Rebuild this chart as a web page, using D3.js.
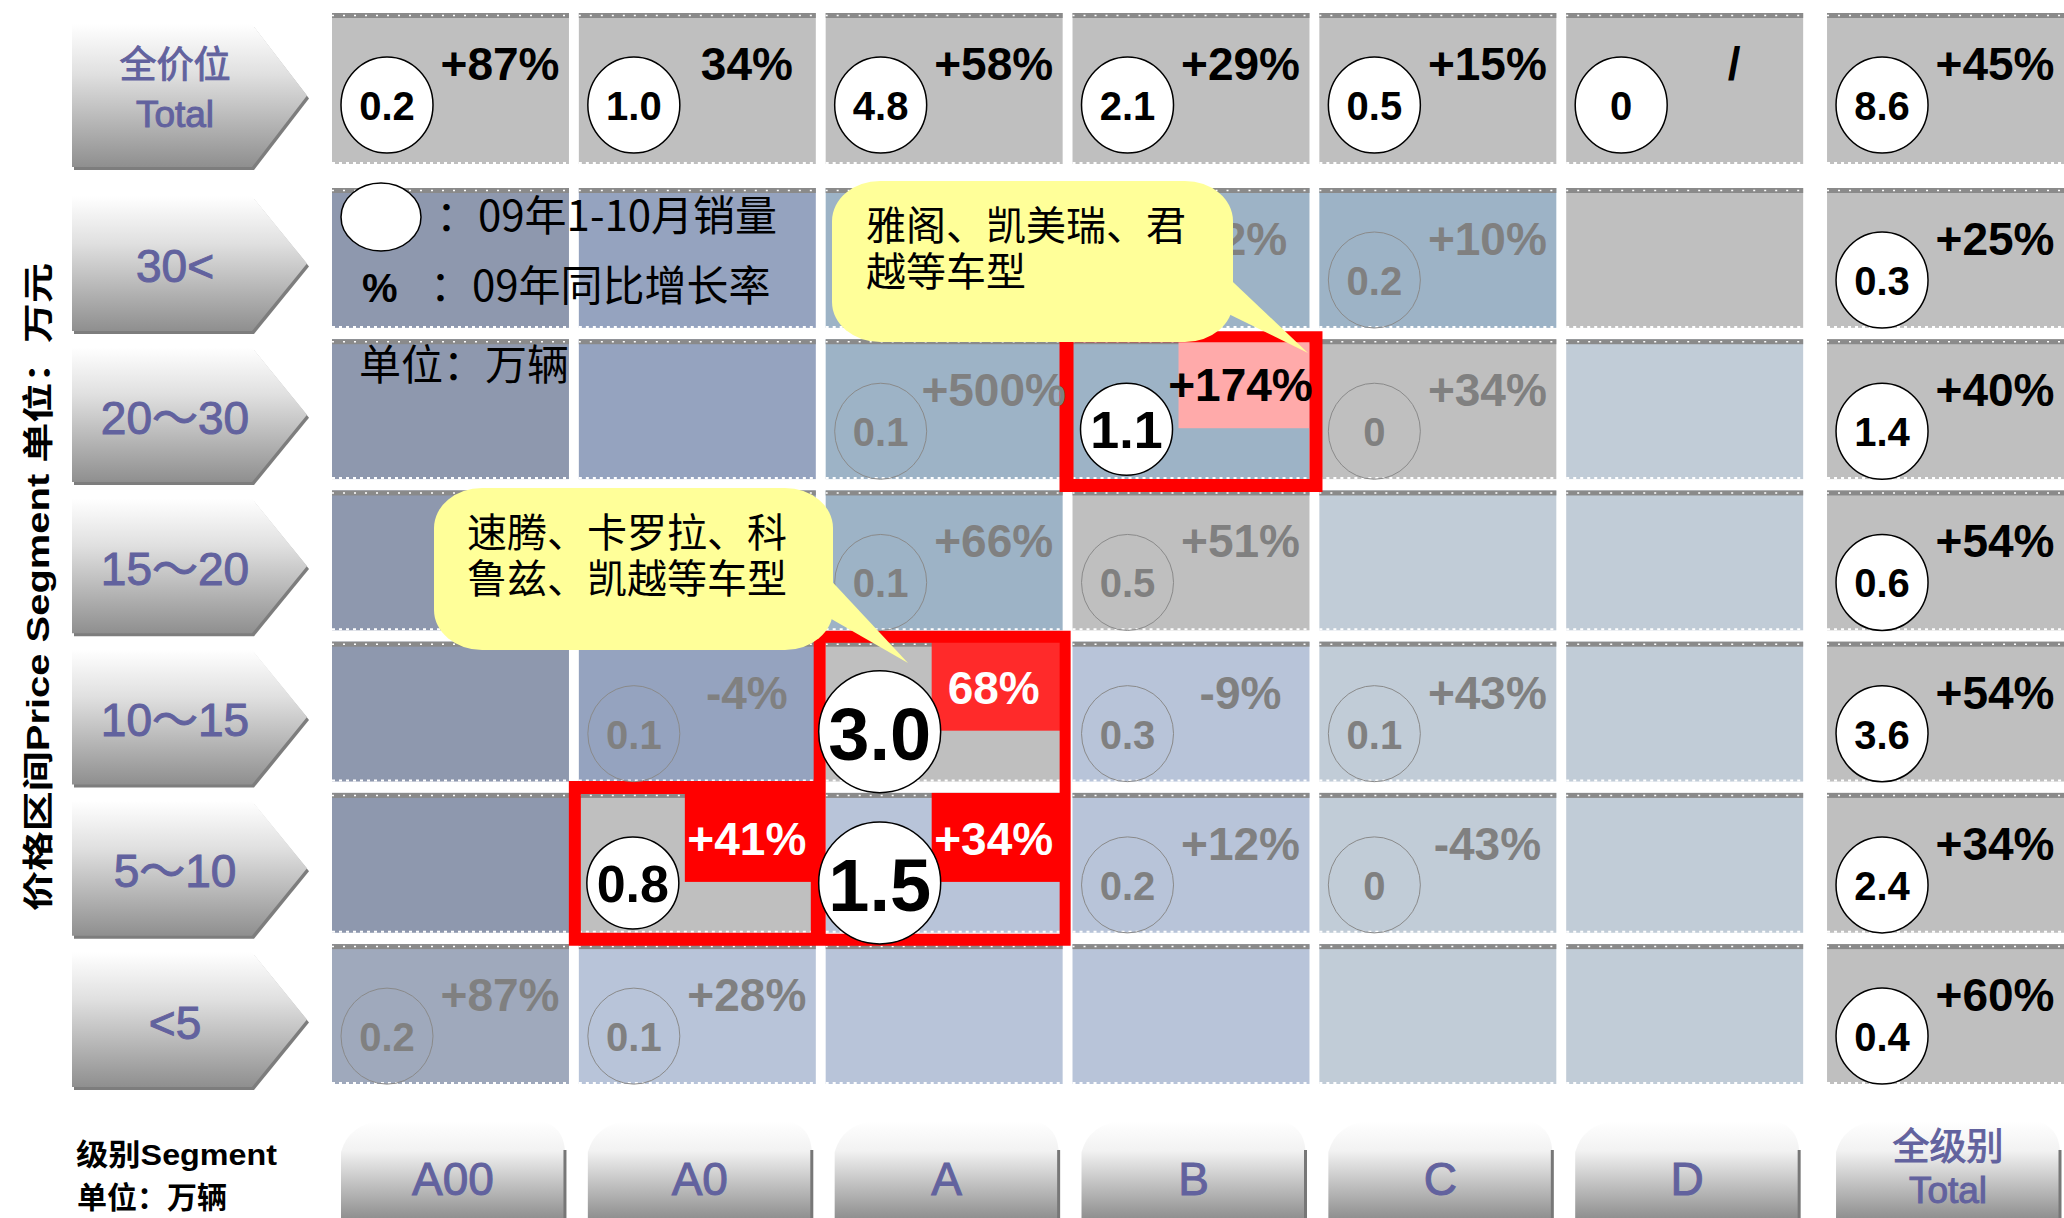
<!DOCTYPE html>
<html>
<head>
<meta charset="utf-8">
<script src="https://cdn.jsdelivr.net/npm/d3@7"></script>
<style>
  html, body { margin: 0; padding: 0; background: #fff; }
  svg { display: block; }
</style>
</head>
<body>
<div id="chart"></div>
<script>
const W = 2064, H = 1218;

// categories
const segments = ["A00", "A0", "A", "B", "C", "D", "Total"];
const priceRows = ["全价位", "30<", "20~30", "15~20", "10~15", "5~10", "<5"];
const priceLabels = [["全价位", "Total"], ["30<"], ["20～30"], ["15～20"], ["10～15"], ["5～10"], ["<5"]];
const segmentLabels = [["A00"], ["A0"], ["A"], ["B"], ["C"], ["D"], ["全级别", "Total"]];

// 09年1-10月销量（万辆），null = 空
const sales = [
  [0.2, 1.0, 4.8, 2.1, 0.5, 0, 8.6],
  [null, null, null, null, 0.2, null, 0.3],
  [null, null, 0.1, 1.1, 0, null, 1.4],
  [null, null, 0.1, 0.5, null, null, 0.6],
  [null, 0.1, 3.0, 0.3, 0.1, null, 3.6],
  [null, 0.8, 1.5, 0.2, 0, null, 2.4],
  [0.2, 0.1, null, null, null, null, 0.4]
];

// 09年同比增长率
const growth = [
  ["+87%", "34%", "+58%", "+29%", "+15%", "/", "+45%"],
  [null, null, null, "+2%", "+10%", null, "+25%"],
  [null, null, "+500%", "+174%", "+34%", null, "+40%"],
  [null, null, "+66%", "+51%", null, null, "+54%"],
  [null, "-4%", "68%", "-9%", "+43%", null, "+54%"],
  [null, "+41%", "+34%", "+12%", "-43%", null, "+34%"],
  [null, "+87%", null, null, null, null, "+60%"].map((v, i) => i === 1 ? "+28%" : v)
];
growth[6][0] = "+87%";

// cell tone category (heat level)
const cellTone = [
  ["g", "g", "g", "g", "g", "g", "g"],
  ["d", "m", "s", "s", "s", "g", "g"],
  ["d", "m", "s", "s", "g", "p", "g"],
  ["d", "m", "s", "g", "p", "p", "g"],
  ["d", "m", "g", "l", "p", "p", "g"],
  ["d", "g", "l", "l", "p", "p", "g"],
  ["e", "l", "l", "l", "p", "p", "g"]
];

// highlighted cells
const hotCells = ["20~30|B", "10~15|A", "5~10|A0", "5~10|A"];

const callouts = [
  { lines: ["雅阁、凯美瑞、君", "越等车型"] },
  { lines: ["速腾、卡罗拉、科", "鲁兹、凯越等车型"] }
];

const CJK = "'Noto Sans CJK SC', sans-serif";
const NUM = "'Liberation Sans', Arial, 'Noto Sans CJK SC', sans-serif";

const svg = d3.select("#chart").append("svg")
  .attr("width", W).attr("height", H);

// scales
const x = d3.scaleBand().domain(segments).range([332, 2050]).paddingInner(0.04);
const totalGap = 14;
const colX = c => x(c) + (c === "Total" ? totalGap : 0);
const bw = x.bandwidth();

const y = d3.scaleBand().domain(priceRows.slice(1)).range([188, 1084]).paddingInner(0.075);
const rowY = r => r === "全价位" ? 13 : y(r);
const rowH = r => r === "全价位" ? 151 : y.bandwidth();

const toneColor = d3.scaleOrdinal()
  .domain(["g", "d", "m", "s", "l", "p", "e"])
  .range(["#bfbfbf", "#8e98ae", "#95a3bf", "#9db3c6", "#b8c4d9", "#c1ccd7", "#9fa9bc"]);

// gradients
const defs = svg.append("defs");
const g1 = defs.append("linearGradient").attr("id", "arrowGrad")
  .attr("x1", 0).attr("y1", 0).attr("x2", 0).attr("y2", 1);
g1.append("stop").attr("offset", 0).attr("stop-color", "#ffffff");
g1.append("stop").attr("offset", 0.35).attr("stop-color", "#e0e0e0");
g1.append("stop").attr("offset", 1).attr("stop-color", "#8f8f8f");
const g2 = defs.append("linearGradient").attr("id", "tabGrad")
  .attr("x1", 0).attr("y1", 0).attr("x2", 0).attr("y2", 1);
g2.append("stop").attr("offset", 0).attr("stop-color", "#ffffff");
g2.append("stop").attr("offset", 0.3).attr("stop-color", "#f2f2f2");
g2.append("stop").attr("offset", 1).attr("stop-color", "#8d8d8d");

// y axis title
svg.append("text")
  .attr("transform", "translate(49,587) rotate(-90)")
  .attr("text-anchor", "middle")
  .attr("font-family", "'Liberation Sans', 'Noto Sans CJK SC', sans-serif")
  .attr("font-weight", "bold")
  .attr("font-size", 31)
  .attr("textLength", 648)
  .attr("lengthAdjust", "spacingAndGlyphs")
  .text("价格区间Price Segment  单位：万元");

// row label arrows
const arrows = svg.append("g");
priceRows.forEach((r, i) => {
  const t = rowY(r) + (i === 0 ? 11 : 8);
  const b = rowY(r) + rowH(r) + 3;
  const mid = (t + b) / 2;
  const path = `M72,${t} L252,${t} L307,${mid} L252,${b} L72,${b} Z`;
  arrows.append("path").attr("d", path)
    .attr("transform", "translate(2,3)")
    .attr("fill", "#7d7d7d");
  arrows.append("path").attr("d", path).attr("fill", "url(#arrowGrad)");
  const lines = priceLabels[i];
  lines.forEach((s, k) => {
    const two = lines.length > 1;
    arrows.append("text")
      .attr("x", 175)
      .attr("y", two ? (k === 0 ? 78 : 127) : mid + 19)
      .attr("text-anchor", "middle")
      .attr("font-family", k === 0 && two ? CJK : NUM)
      .attr("font-size", two ? 37 : 46)
      .attr("fill", "#62629e")
      .attr("stroke", "#62629e").attr("stroke-width", 1)
      .text(s);
  });
});

// column tabs at the bottom
const tabs = svg.append("g");
segments.forEach((c, i) => {
  const x0 = colX(c) + 9, x1 = colX(c) + bw - 4;
  const path = `M${x0},1220 L${x0},1152 Q${x0 + 8},1124 ${x0 + 40},1121 L${x1 - 24},1121 Q${x1 - 2},1126 ${x1},1150 L${x1},1220 Z`;
  tabs.append("path").attr("d", path).attr("fill", "url(#tabGrad)");
  tabs.append("line").attr("x1", x1).attr("x2", x1).attr("y1", 1150).attr("y2", 1218)
    .attr("stroke", "#777").attr("stroke-width", 3);
  const lines = segmentLabels[i];
  lines.forEach((s, k) => {
    const two = lines.length > 1;
    tabs.append("text")
      .attr("x", (x0 + x1) / 2)
      .attr("y", two ? (k === 0 ? 1160 : 1203) : 1195)
      .attr("text-anchor", "middle")
      .attr("font-family", k === 0 && two ? CJK : NUM)
      .attr("font-size", two ? 37 : 46)
      .attr("fill", "#62629e")
      .attr("stroke", "#62629e").attr("stroke-width", 1)
      .text(s);
  });
});

// bottom-left note
const note = svg.append("g")
  .attr("font-family", "'Liberation Sans', 'Noto Sans CJK SC', sans-serif")
  .attr("font-weight", "bold").attr("font-size", 30);
note.append("text").attr("x", 76).attr("y", 1165)
  .attr("textLength", 201).attr("lengthAdjust", "spacingAndGlyphs").text("级别Segment");
note.append("text").attr("x", 77).attr("y", 1208).text("单位：万辆");

// cells
const cells = [];
priceRows.forEach((r, i) => segments.forEach((c, j) => {
  cells.push({
    row: r, col: c, i, j,
    x: colX(c), y: rowY(r), h: rowH(r),
    tone: cellTone[i][j],
    sales: sales[i][j],
    growth: growth[i][j],
    hot: hotCells.includes(r + "|" + c),
    strong: i === 0 || c === "Total"
  });
}));

const cellG = svg.append("g");
cellG.selectAll("rect.cell").data(cells).join("rect")
  .attr("class", "cell")
  .attr("x", d => d.x).attr("y", d => d.y)
  .attr("width", bw).attr("height", d => d.h)
  .attr("fill", d => toneColor(d.tone));
cellG.selectAll("rect.stripe").data(cells).join("rect")
  .attr("class", "stripe")
  .attr("x", d => d.x).attr("y", d => d.y)
  .attr("width", bw).attr("height", 5)
  .attr("fill", "#8a8a8a");
cellG.selectAll("line.dots").data(cells).join("line")
  .attr("class", "dots")
  .attr("x1", d => d.x).attr("x2", d => d.x + bw)
  .attr("y1", d => d.y + 2.5).attr("y2", d => d.y + 2.5)
  .attr("stroke", "#fff").attr("stroke-width", 1.5)
  .attr("stroke-dasharray", "2 9");
cellG.selectAll("line.zig").data(cells).join("line")
  .attr("class", "zig")
  .attr("x1", d => d.x).attr("x2", d => d.x + bw)
  .attr("y1", d => d.y + d.h - 1).attr("y2", d => d.y + d.h - 1)
  .attr("stroke", "#fff").attr("stroke-width", 2)
  .attr("stroke-dasharray", "3 4");

// hot label boxes
const hotFill = { "20~30|B": "#ffaaaa", "10~15|A": "#ff2a2a", "5~10|A0": "#ff0000", "5~10|A": "#ff0000" };
const hot = cells.filter(d => d.hot);
cellG.selectAll("rect.hotbox").data(hot).join("rect")
  .attr("class", "hotbox")
  .attr("x", d => d.x + 106).attr("y", d => d.y)
  .attr("width", bw - 106).attr("height", 89)
  .attr("fill", d => hotFill[d.row + "|" + d.col]);

// red frames (outline minus cell interiors)
const cellOf = (r, c) => cells.find(d => d.row === r && d.col === c);
function framePath() {
  const b = cellOf("20~30", "B");
  let p = `M${b.x - 13},${b.y - 8} H${b.x + bw + 13} V${b.y + b.h + 13} H${b.x - 13} Z `;
  p += `M${b.x + 1},${b.y + 3} H${b.x + bw} V${b.y + b.h} H${b.x + 1} Z `;
  const a0 = cellOf("5~10", "A0"), aT = cellOf("10~15", "A"), aB = cellOf("5~10", "A");
  const L = a0.x - 10, T1 = a0.y - 12, M = aT.x - 12, T2 = aT.y - 11, R = aT.x + bw + 8, Bt = aB.y + aB.h + 13;
  p += `M${L},${T1} H${M} V${T2} H${R} V${Bt} H${L} Z `;
  p += `M${a0.x + 2},${a0.y + 1} H${a0.x + bw - 5} V${a0.y + a0.h} H${a0.x + 2} Z `;
  p += `M${aT.x},${aT.y + 1} H${aT.x + bw - 3} V${aB.y + aB.h + 1} H${aT.x} Z`;
  return p;
}
svg.append("path").attr("d", framePath())
  .attr("fill", "#ff0000").attr("fill-rule", "evenodd");

// circles and labels
const fmt = v => v === 0 ? "0" : v.toFixed(1);
const marks = svg.append("g");
const withSales = cells.filter(d => d.sales !== null);
const bigCol = d => d.hot && d.col === "A";

marks.selectAll("ellipse.val").data(withSales).join("ellipse")
  .attr("class", "val")
  .attr("cx", d => d.x + (d.hot ? 54 : 55))
  .attr("cy", d => d.y + (d.hot ? 90 : 92))
  .attr("rx", d => bigCol(d) ? 61 : 46)
  .attr("ry", d => bigCol(d) ? 61 : (d.hot ? 46 : 48))
  .attr("fill", d => d.hot || d.strong ? "#fff" : "none")
  .attr("stroke", d => d.hot || d.strong ? "#000" : "#8a8a8a")
  .attr("stroke-width", d => d.hot || d.strong ? 1.5 : 1);

marks.selectAll("text.val").data(withSales).join("text")
  .attr("class", "val")
  .attr("x", d => d.x + (d.hot ? 54 : 55))
  .attr("y", d => d.y + (d.hot ? 90 : 92) + (bigCol(d) ? 28 : d.hot ? 19 : 15))
  .attr("text-anchor", "middle")
  .attr("font-family", NUM).attr("font-weight", "bold")
  .attr("font-size", d => bigCol(d) ? 74 : d.hot ? 52 : 40)
  .attr("fill", d => d.hot || d.strong ? "#000" : "#808080")
  .text(d => fmt(d.sales));

marks.selectAll("text.pct").data(cells.filter(d => d.growth !== null)).join("text")
  .attr("class", "pct")
  .attr("x", d => d.x + 168)
  .attr("y", d => d.y + (d.hot ? 62 : 67))
  .attr("text-anchor", "middle")
  .attr("font-family", NUM).attr("font-weight", "bold")
  .attr("font-size", 46)
  .attr("fill", d => d.hot ? (d.col === "B" ? "#000" : "#fff") : d.strong ? "#000" : "#808080")
  .text(d => d.growth);

// legend
const lg = svg.append("g").attr("font-family", CJK).attr("font-size", 42).attr("fill", "#000");
lg.append("ellipse").attr("cx", 381).attr("cy", 217).attr("rx", 40).attr("ry", 34)
  .attr("fill", "#fff").attr("stroke", "#000").attr("stroke-width", 1.5);
lg.append("text").attr("x", 436).attr("y", 231).text("：09年1-10月销量");
lg.append("text").attr("x", 362).attr("y", 302)
  .attr("font-family", NUM).attr("font-weight", "bold").attr("font-size", 40).text("%");
lg.append("text").attr("x", 430).attr("y", 301).text("：09年同比增长率");
lg.append("text").attr("x", 359).attr("y", 380).text("单位：万辆");

// callouts
const boxes = [
  { x: 832, y: 181, w: 401, h: 161, tail: [[1215, 265], [1308, 353], [1200, 300]], tx: 866, ty: [240, 286] },
  { x: 434, y: 488, w: 399, h: 162, tail: [[810, 558], [908, 663], [800, 601]], tx: 467, ty: [547, 593] }
];
const cg = svg.append("g");
callouts.forEach((c, k) => {
  const b = boxes[k];
  cg.append("polygon").attr("points", b.tail.map(p => p.join(",")).join(" ")).attr("fill", "#ffff99");
  cg.append("rect").attr("x", b.x).attr("y", b.y).attr("width", b.w).attr("height", b.h)
    .attr("rx", 48).attr("ry", 40).attr("fill", "#ffff99");
  c.lines.forEach((s, n) => {
    cg.append("text").attr("x", b.tx).attr("y", b.ty[n])
      .attr("font-family", CJK).attr("font-size", 40).attr("fill", "#000").text(s);
  });
});
</script>
</body>
</html>
